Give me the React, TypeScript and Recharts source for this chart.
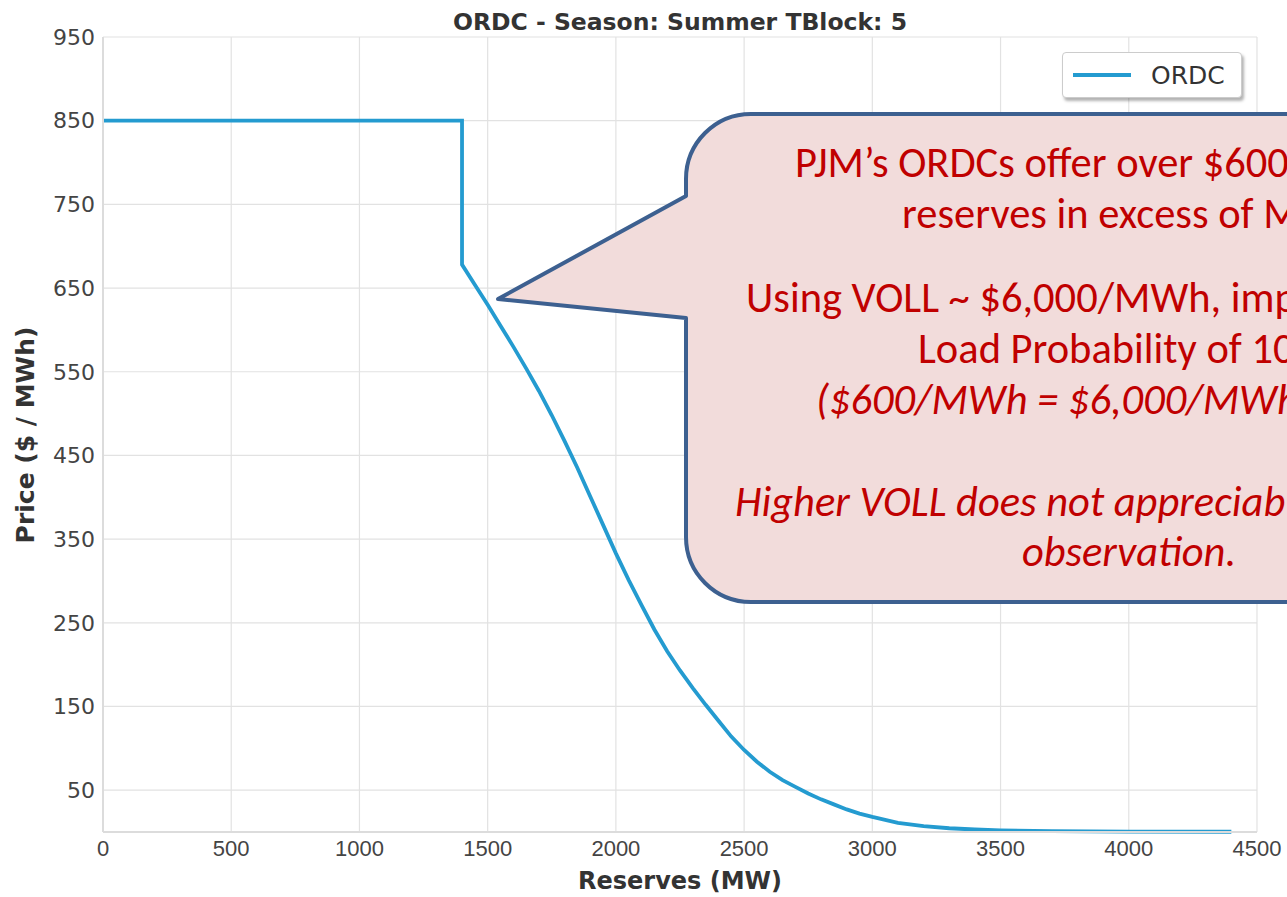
import { LineChart, Line, XAxis, YAxis, CartesianGrid } from 'recharts';

// ORDC curve
const reserves = [
  0, 1400, 1400, 1450, 1500, 1550, 1600, 1650, 1700, 1750, 1800, 1850, 1900, 1950, 2000,
  2050, 2100, 2150, 2200, 2250, 2300, 2350, 2400, 2450, 2500, 2550, 2600, 2650, 2700,
  2750, 2800, 2850, 2900, 2950, 3000, 3100, 3200, 3300, 3400, 3500, 3700, 4000, 4400,
];
const price = [
  850, 850, 678, 654, 630, 605, 580, 554, 527, 498, 467, 435, 401, 367, 333,
  301, 271, 242, 216, 193, 172, 152, 133, 114, 98, 84, 72, 62, 54,
  46, 39, 33, 27, 22, 18, 11, 7, 4.5, 3, 2, 1, 0.5, 0.3,
];
const xTicks = [0, 500, 1000, 1500, 2000, 2500, 3000, 3500, 4000, 4500];
const yTicks = [50, 150, 250, 350, 450, 550, 650, 750, 850, 950];

// the callout runs off the right edge of the picture, so only the visible part is kept
const calloutLines = [
  { text: 'PJM’s ORDCs offer over $600', x: 795, y: 177, italic: false },
  { text: 'reserves in excess of M', x: 902, y: 228, italic: false },
  { text: 'Using VOLL ~ $6,000/MWh, imp', x: 746, y: 312, italic: false },
  { text: 'Load Probability of 10', x: 918, y: 363, italic: false },
  { text: '($600/MWh = $6,000/MWh', x: 816, y: 414, italic: true },
  { text: 'Higher VOLL does not appreciab', x: 735, y: 516, italic: true },
  { text: 'observation.', x: 1022, y: 566, italic: true },
];

const data = reserves.map((r, i) => ({ reserves: r, price: price[i] }));

const LINE = '#249bd0';
const TICK = { fill: '#444', fontSize: 22, fontFamily: 'Liberation Sans, Arial, sans-serif' };

function LegendBox() {
  return (
    <div
      style={{
        position: 'absolute',
        left: 1062,
        top: 52,
        width: 180,
        height: 46,
        boxSizing: 'border-box',
        background: '#fff',
        border: '1px solid #ccc',
        borderRadius: 4,
        boxShadow: '2px 3px 3px rgba(0,0,0,0.3)',
        display: 'flex',
        alignItems: 'center',
        fontFamily: 'DejaVu Sans, sans-serif',
        fontSize: 25,
        color: '#333',
      }}
    >
      <svg width={80} height={20} style={{ marginLeft: 8 }}>
        <line x1={2} y1={10} x2={60} y2={10} stroke={LINE} strokeWidth={4} />
      </svg>
      <span>ORDC</span>
    </div>
  );
}

export default function App() {
  return (
    <div style={{ position: 'absolute', left: 0, top: 0, width: 1287, height: 897, background: '#fff' }}>
      <LineChart width={1287} height={897} data={data} margin={{ top: 37, right: 30, bottom: 35, left: 43 }}>
        <CartesianGrid stroke="#e2e2e2" strokeWidth={1.2} />
        <XAxis
          dataKey="reserves"
          type="number"
          domain={[0, 4500]}
          ticks={xTicks}
          height={30}
          tickLine={false}
          axisLine={{ stroke: '#dcdcdc', strokeWidth: 2 }}
          tick={TICK}
          interval={0}
        />
        <YAxis
          type="number"
          domain={[0, 950]}
          ticks={yTicks}
          width={60}
          tickLine={false}
          axisLine={{ stroke: '#dcdcdc', strokeWidth: 2 }}
          tick={{ ...TICK, fontFamily: 'DejaVu Sans, sans-serif' }}
          interval={0}
        />
        <Line
          type="linear"
          dataKey="price"
          name="ORDC"
          stroke={LINE}
          strokeWidth={3.8}
          dot={false}
          activeDot={false}
          isAnimationActive={false}
        />
        <text x={680} y={30} textAnchor="middle" fontFamily="DejaVu Sans, sans-serif" fontWeight="bold" fontSize={23.5} fill="#333">
          ORDC - Season: Summer TBlock: 5
        </text>
        <text x={680} y={889} textAnchor="middle" fontFamily="DejaVu Sans, sans-serif" fontWeight="bold" fontSize={24} fill="#333">
          Reserves (MW)
        </text>
        <text
          transform="translate(34, 435) rotate(-90)"
          textAnchor="middle"
          fontFamily="DejaVu Sans, sans-serif"
          fontWeight="bold"
          fontSize={25}
          fill="#333"
        >
          Price ($ / MWh)
        </text>
        <g>
          <path
            d="M 751 114 H 1700 V 602 H 751 A 65 65 0 0 1 686 537 V 318 L 498 299 L 686 196 V 179 A 65 65 0 0 1 751 114 Z"
            fill="#f2dcdb"
            stroke="#3d6090"
            strokeWidth={4}
            strokeLinejoin="round"
          />
          {calloutLines.map((l) => (
            <text
              key={l.text}
              x={l.x}
              y={l.y}
              fontFamily="Carlito, Lato, sans-serif"
              fontSize={42.5}
              fontStyle={l.italic ? 'italic' : 'normal'}
              fill="#c00000"
            >
              {l.text}
            </text>
          ))}
        </g>
      </LineChart>
      <LegendBox />
    </div>
  );
}
